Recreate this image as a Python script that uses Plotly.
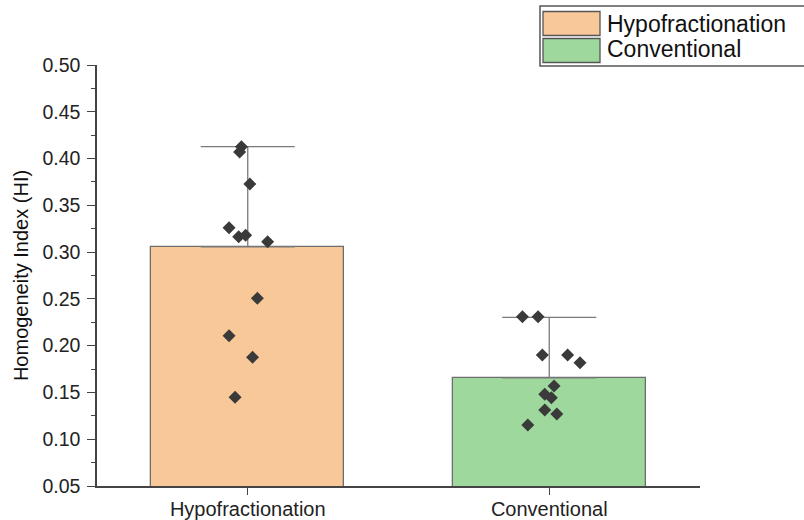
import plotly.graph_objects as go

# ---- data ----
categories = ["Hypofractionation", "Conventional"]
bar_means = [0.3055, 0.1655]
err_plus = [0.1072, 0.0648]
bar_colors = ["#F9C898", "#9FD89C"]

hypo_values = [0.4127, 0.4070, 0.3728, 0.3260, 0.3165, 0.3180, 0.3110,
               0.2506, 0.2107, 0.1876, 0.1448]
hypo_jitter = [-0.021, -0.027, 0.007, -0.062, -0.030, -0.007, 0.066,
               0.032, -0.062, 0.016, -0.042]
conv_values = [0.2310, 0.2310, 0.1900, 0.1900, 0.1818, 0.1569, 0.1480,
               0.1444, 0.1312, 0.1270, 0.1152]
conv_jitter = [-0.089, -0.037, -0.023, 0.061, 0.102, 0.016, -0.015,
               0.007, -0.015, 0.025, -0.071]

y_tick_vals = [0.05, 0.10, 0.15, 0.20, 0.25, 0.30, 0.35, 0.40, 0.45, 0.50]
y_title = "Homogeneity Index (HI)"

FONT = "Liberation Sans, Arial, sans-serif"
W, H = 804, 520
L, R, T, B = 97, 104, 65, 34

fig = go.Figure()

fig.add_trace(go.Bar(
    x=[0, 1], y=bar_means, width=0.64,
    marker=dict(color=bar_colors, line=dict(color="#6E6E6E", width=1.3)),
    error_y=dict(type="data", symmetric=False, array=err_plus,
                 arrayminus=[0, 0], color="#7A7A7A", thickness=1.3, width=47),
    showlegend=False, hoverinfo="skip",
))

for idx, (vals, jit) in enumerate([(hypo_values, hypo_jitter), (conv_values, conv_jitter)]):
    fig.add_trace(go.Scatter(
        x=[idx + j for j in jit], y=vals, mode="markers",
        marker=dict(symbol="diamond", size=10, color="#3A3A3A",
                    line=dict(width=0)),
        showlegend=False, hoverinfo="skip",
    ))

fig.update_layout(
    width=W, height=H,
    margin=dict(l=L, r=R, t=T, b=B, pad=0, autoexpand=False),
    paper_bgcolor="white", plot_bgcolor="white",
    font=dict(family=FONT, color="#222222"),
    showlegend=False,
    bargap=0,
)

fig.update_xaxes(
    range=[-0.5, 1.5], tickvals=[0, 1], ticktext=categories,
    showline=True, linecolor="#444444", linewidth=1.5,
    ticks="outside", ticklen=7, tickcolor="#444444", tickwidth=1.3,
    ticklabelstandoff=-3,
    tickfont=dict(size=20, family=FONT, color="#222222"),
    showgrid=False, zeroline=False, automargin=False,
)

fig.update_yaxes(
    range=[0.05, 0.5], tickvals=y_tick_vals,
    ticktext=[f"{v:.2f}" for v in y_tick_vals],
    showline=True, linecolor="#444444", linewidth=1.5,
    ticks="outside", ticklen=8, tickcolor="#444444", tickwidth=1.3,
    ticklabelstandoff=3,
    minor=dict(dtick=0.025, tick0=0.05, ticks="outside", ticklen=4,
               tickcolor="#444444", tickwidth=1.2, showgrid=False),
    tickfont=dict(size=19.5, family=FONT, color="#222222"),
    title=dict(text=y_title, font=dict(size=20, family=FONT, color="#111111"),
               standoff=8),
    showgrid=False, zeroline=False, automargin=False,
)

# ---- manual legend (large swatches like the reference) ----
pw, ph = W - L - R, H - T - B
def px(x):
    return (x - L) / pw
def py(y):
    return (H - B - y) / ph

shapes = [
    dict(type="rect", xref="paper", yref="paper",
         x0=px(540), x1=px(808), y0=py(66), y1=py(6),
         line=dict(color="#555555", width=1.5), fillcolor="white", layer="above"),
]
swatch_rows = [(11.5, 35.5), (38.5, 62.5)]
text_y = [23.5, 49.5]
for (y0, y1), col, name, ty in zip(swatch_rows, bar_colors, categories, text_y):
    shapes.append(dict(type="rect", xref="paper", yref="paper",
                       x0=px(543), x1=px(600), y0=py(y1), y1=py(y0),
                       line=dict(color="#555555", width=1.3), fillcolor=col,
                       layer="above"))
    fig.add_annotation(x=px(605), y=py(ty), xref="paper", yref="paper",
                       text=name, showarrow=False, xanchor="left", yanchor="middle",
                       font=dict(size=23, family=FONT, color="#111111"))
fig.update_layout(shapes=shapes)

fig.write_html("out.html", config={"displayModeBar": False},
               post_script="document.body.style.margin='0';document.body.style.overflow='hidden';")
